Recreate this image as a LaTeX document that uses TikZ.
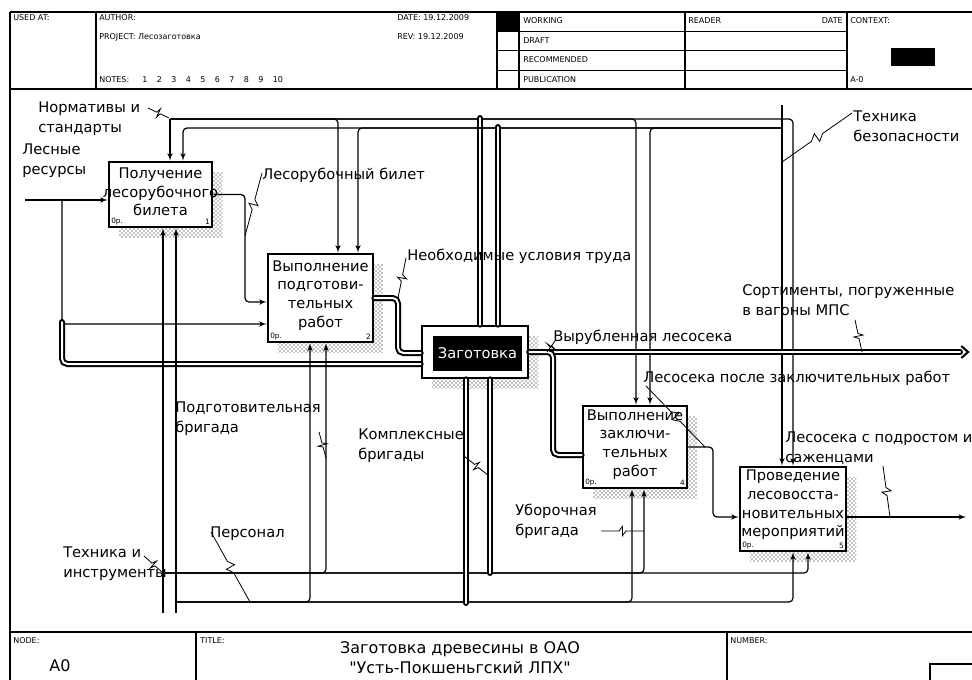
\documentclass[tikz,border=0pt]{standalone}
\usepackage{fontspec}
\setmainfont[Ligatures=TeXOff]{DejaVu Sans}
\usetikzlibrary{arrows,positioning,calc,shadows,patterns}
\tikzset{
    mybox/.style={rectangle, draw=black, fill=white, line width=2pt, inner sep=0pt,
        general shadow={pattern=crosshatch dots, pattern color=black, shadow xshift=7.5pt, shadow yshift=-7.5pt}},
    mytext/.style={align=center, inner sep=0pt, font=\fontsize{11}{14}\selectfont},
    myarrow/.style={->, >=latex', line width=0.9pt, rounded corners=3pt},
    mydouble/.style={line width=1.5pt, double=white, double distance=1.5pt, rounded corners=4pt, line cap=round},
    mylabel/.style={align=left, anchor=west, inner sep=0pt, font=\fontsize{11}{15}\selectfont},
    myzig/.style={line width=0.6pt},
    myhead/.style={anchor=west, inner sep=0pt, font=\fontsize{6}{7}\selectfont},
    mycorner/.style={inner sep=0pt, font=\fontsize{5.5}{6}\selectfont},
    myframe/.style={line width=1pt}
}
\newcommand{\idefzig}[2]{\draw[myzig] (#1) -- ($(#1)!0.42!(#2)$) -- ($(#1)!0.5!(#2)!3.5pt!90:(#2)$) -- ($(#1)!0.5!(#2)!3.5pt!-90:(#2)$) -- ($(#1)!0.58!(#2)$) -- (#2);}

\begin{document}
\begin{tikzpicture}[x=0.75pt, y=-0.75pt]
\useasboundingbox (0,0) rectangle (972,679);

% frame, header and footer
\draw[myframe] (10,12) -- (980,12);
\draw[myframe] (10,89) -- (980,89);
\draw[myframe] (10,12) -- (10,690);
\draw[myframe] (10,632) -- (980,632);
\foreach \x in {96,497,519,685,847} \draw[myframe] (\x,12) -- (\x,89);
\foreach \y in {31.5,50.5,70.5} \draw[myframe] (497,\y) -- (847,\y);
\fill (497,12) rectangle (519,31.5);
\fill (891,48) rectangle (935,66);
\foreach \x in {196,727} \draw[myframe] (\x,632) -- (\x,690);
\draw[myframe] (930,664) rectangle (990,690);

\node[myhead] (hused) at (13,18) {USED AT:};
\node[myhead] (hauth) at (99,18) {AUTHOR:};
\node[myhead] (hproj) at (99,37) {PROJECT: Лесозаготовка};
\node[myhead] (hnotes) at (99,80) {NOTES:};
\foreach \n in {1,...,10} \node[myhead] (note\n) at ({142+14.5*(\n-1)},80) {\n};
\node[myhead] (hdate) at (397,18) {DATE: 19.12.2009};
\node[myhead] (hrev) at (397,37) {REV: 19.12.2009};
\node[myhead] (hwork) at (523,21) {WORKING};
\node[myhead] (hdraft) at (523,41) {DRAFT};
\node[myhead] (hrec) at (523,60) {RECOMMENDED};
\node[myhead] (hpub) at (523,80) {PUBLICATION};
\node[myhead] (hread) at (688,21) {READER};
\node[myhead, anchor=east] (hdate2) at (843,21) {DATE};
\node[myhead] (hcont) at (850,21) {CONTEXT:};
\node[myhead] (hctx) at (850,80) {A-0};
\node[myhead] (fnode) at (13,641) {NODE:};
\node[myhead] (ftitle) at (200,641) {TITLE:};
\node[myhead] (fnum) at (730,641) {NUMBER:};
\node[inner sep=0pt, font=\fontsize{12}{15}\selectfont] (fa0) at (60,666) {A0};
\node[align=center, inner sep=0pt, font=\fontsize{12}{15}\selectfont] (fname) at (460,658) {Заготовка древесины в ОАО\\"Усть-Покшеньгский ЛПХ"};

% activity boxes
\node[mybox, minimum width=77.25pt, minimum height=48.75pt] (b1) at (160.5,194.5) {};
\node[mytext] (t1) at ([yshift=2pt]b1.center) {Получение\\лесорубочного\\билета};
\node[mybox, minimum width=78.75pt, minimum height=66pt] (b2) at (320.5,298) {};
\node[mytext] (t2) at ([yshift=2pt]b2.center) {Выполнение\\подготови-\\тельных\\работ};
\node[mybox, minimum width=79.5pt, minimum height=39pt] (b3) at (475,352) {};
\node[fill=black, text=white, inner sep=0pt, minimum width=66.75pt, minimum height=26.25pt, font=\fontsize{11}{14}\selectfont] (b3in) at (477.5,353.5) {Заготовка};
\node[mybox, minimum width=78pt, minimum height=61.5pt] (b4) at (635,447) {};
\node[mytext] (t4) at ([yshift=2pt]b4.center) {Выполнение\\заключи-\\тельных\\работ};
\node[mybox, minimum width=79.5pt, minimum height=63pt] (b5) at (793,509) {};
\node[mytext] (t5) at ([yshift=3pt]b5.center) {Проведение\\лесовосста-\\новительных\\мероприятий};

\foreach \b/\n in {b1/1, b2/2, b4/4, b5/5} {
  \node[mycorner, anchor=south west] (\b cost) at ([shift={(2.5pt,2.5pt)}]\b.south west) {0р.};
  \node[mycorner, anchor=south east] (\b num) at ([shift={(-2.5pt,2.5pt)}]\b.south east) {\n};
}

% boundary points
\coordinate (norm) at (170,119);
\coordinate (tbez) at (782,105);
\coordinate (les) at (25,200);
\coordinate (tech) at (163,613);
\coordinate (pers) at (176,613);
\coordinate (sort) at (968,352);
\coordinate (podr) at (966,517);

% controls
\draw[myarrow] (norm) -- (norm |- b1.north);
\draw[myarrow] (norm) -- (338,119) -- (338,119 |- b2.north);
\draw[myarrow] (norm) -- (636,119) -- (636,119 |- b4.north);
\draw[myarrow] (norm) -- (793,119) -- (793,119 |- b5.north);
\draw[mydouble] (480,118) -- (480,118 |- b3.north);
\draw[myarrow] (tbez) -- (tbez |- b5.north);
\draw[myarrow] (782,128) -- (183,128) -- (183,128 |- b1.north);
\draw[myarrow] (782,128) -- (358,128) -- (358,128 |- b2.north);
\draw[myarrow] (782,128) -- (650,128) -- (650,128 |- b4.north);
\draw[mydouble] (498,127) -- (498,127 |- b3.north);

% inputs and outputs
\draw[myarrow] (les) -- (les -| b1.west);
\draw[myarrow] (62,200) -- (62,324) -- (62,324 -| b2.west);
\draw[mydouble] (62,322) -- (62,364) -- (62,364 -| b3.west);
\draw[myarrow] (b1.east) -- (245,194.5) -- (245,302) -- (245,302 -| b2.west);
\draw[mydouble] (b2.east) -- (398,298) -- (398,353) -- (398,353 -| b3.west);
\draw[mydouble] (b3.east) -- ([xshift=-6pt]sort);
\draw[line width=1.6pt] ([shift={(-5pt,4.5pt)}]sort) -- (sort) -- ([shift={(-5pt,-4.5pt)}]sort);
\draw[mydouble] (b3.east) -- (553,352) -- (553,455) -- (553,455 -| b4.west);
\draw[myarrow] (b4.east) -- (713,447) -- (713,517) -- (713,517 -| b5.west);
\draw[myarrow] (b5.east |- podr) -- (podr);

% mechanisms
\draw[myarrow] (tech) -- (tech |- b1.south);
\draw[myarrow] (pers) -- (pers |- b1.south);
\draw[myarrow] (163,573) -- (808,573) -- (808,573 |- b5.south);
\draw[myarrow] (163,573) -- (326,573) -- (326,573 |- b2.south);
\draw[myarrow] (163,573) -- (644,573) -- (644,573 |- b4.south);
\draw[mydouble] (490,573) -- (490,573 |- b3.south);
\draw[myarrow] (176,602) -- (793,602) -- (793,602 |- b5.south);
\draw[myarrow] (176,602) -- (310,602) -- (310,602 |- b2.south);
\draw[myarrow] (176,602) -- (632,602) -- (632,602 |- b4.south);
\draw[mydouble] (466,603) -- (466,603 |- b3.south);

% arrow labels
\node[mylabel] (lnorm) at (38,119) {Нормативы и\\стандарты};
\node[mylabel] (lles) at (22,160.5) {Лесные\\ресурсы};
\node[mylabel] (lbil) at (262,175) {Лесорубочный билет};
\node[mylabel] (lusl) at (407,256) {Необходимые условия труда};
\node[mylabel] (lvyr) at (553,337) {Вырубленная лесосека};
\node[mylabel] (lsort) at (742,300.5) {Сортименты, погруженные\\в вагоны МПС};
\node[mylabel] (ltb) at (853,126.5) {Техника\\безопасности};
\node[mylabel] (lpos) at (643,378) {Лесосека после заключительных работ};
\node[mylabel] (lpodr) at (785,448) {Лесосека с подростом и\\саженцами};
\node[mylabel] (lpodg) at (175,418.5) {Подготовительная\\бригада};
\node[mylabel] (lkomp) at (358,446) {Комплексные\\бригады};
\node[mylabel] (lpers) at (210,534) {Персонал};
\node[mylabel] (ltech) at (63,564) {Техника и\\инструменты};
\node[mylabel] (lubor) at (515,521.5) {Уборочная\\бригада};

% squiggles
\idefzig{148,108}{169,118}
\idefzig{262,173}{245,236}
\idefzig{406,258}{398,298}
\idefzig{555,341}{547,352}
\idefzig{855,320}{862,352}
\idefzig{852,113}{782,162}
\idefzig{646,386}{705,447}
\idefzig{883,466}{890,517}
\idefzig{319,432}{326,458}
\idefzig{464,456}{489,476}
\idefzig{211,532}{250,602}
\idefzig{144,556}{163,573}
\idefzig{601,531}{644,531}
\end{tikzpicture}
\end{document}
